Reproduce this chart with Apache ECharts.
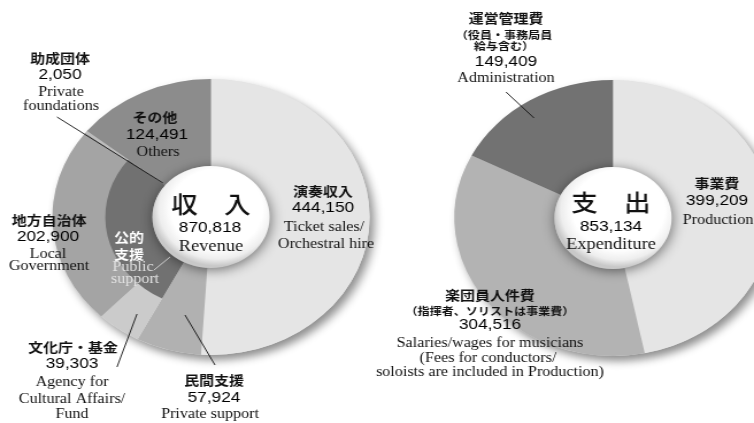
<!DOCTYPE html>
<html>
<head>
<meta charset="utf-8">
<script src="https://cdn.jsdelivr.net/npm/echarts@6/dist/echarts.min.js"></script>
<style>
  html, body { margin: 0; padding: 0; background: #fff; overflow: hidden; }
  /* the original artwork is stretched sideways, so the whole canvas is too */
  #chart { width: 656px; height: 423px; transform-origin: 0 0; transform: scaleX(1.14939); }
</style>
</head>
<body>
<div id="chart"></div>
<script>
// 収入 (revenue), clockwise from 12 o'clock
const revNames = ['演奏収入', '民間支援', '文化庁・基金', '地方自治体', '助成団体', 'その他'];
const revValues = [444150, 57924, 39303, 202900, 2050, 124491];
const revPublic = [false, false, true, true, true, false]; // 公的支援 inner ring

// 支出 (expenditure), clockwise from 12 o'clock
const expNames = ['事業費', '楽団員人件費', '運営管理費'];
const expValues = [399209, 304516, 149409];

const revColors = ['#e5e5e5', '#b1b1b1', '#cbcbcb', '#a4a4a4', '#bcbcbc', '#8c8c8c'];
const expColors = ['#e5e5e5', '#b3b3b3', '#727272'];
const publicColor = '#717171';

const S = 754 / 656;
const fmt = v => v.toLocaleString('en-US');
const sum = a => a.reduce((s, v) => s + v, 0);

const L = [211 / S, 217];
const R = [613 / S, 218];
const R_OUT = 138, R_MID = 92, R_IN = 51;

// inner ring: merge neighbouring slices of the same group
const innerData = [];
revValues.forEach((v, i) => {
  const last = innerData[innerData.length - 1];
  if (last && last.pub === revPublic[i]) last.value += v;
  else innerData.push({ value: v, pub: revPublic[i] });
});

const chart = echarts.init(document.getElementById('chart'));

const base = (center) => ({
  type: 'pie', center, radius: [0, R_OUT], silent: true, z: 1,
  label: { show: false }, labelLine: { show: false },
  itemStyle: { color: '#e5e5e5', shadowBlur: 9, shadowOffsetX: 4, shadowOffsetY: 5, shadowColor: 'rgba(0,0,0,0.45)' },
  data: [{ value: 1 }]
});
const ball = (center) => ({
  type: 'pie', center, radius: [0, R_IN], silent: true, z: 5,
  label: { show: false }, labelLine: { show: false },
  itemStyle: {
    color: { type: 'radial', x: 0.55, y: 0.42, r: 0.56, colorStops: [
      { offset: 0, color: '#ffffff' }, { offset: 0.7, color: '#ffffff' },
      { offset: 0.88, color: '#eeeeee' }, { offset: 1, color: '#c8c8c8' }] },
    shadowBlur: 12, shadowOffsetX: 1, shadowOffsetY: 2, shadowColor: 'rgba(0,0,0,0.5)'
  },
  data: [{ value: 1 }]
});

const T = (text, ix, y, font, fill) => ({
  type: 'text', x: ix / S, y, z: 100, silent: true,
  style: { text, font, fill: fill || '#111', textAlign: 'center', textVerticalAlign: 'middle' }
});
const Ln = (x1, y1, x2, y2, stroke) => ({
  type: 'line', z: 100, silent: true,
  shape: { x1: x1 / S, y1, x2: x2 / S, y2 },
  style: { stroke: stroke || '#111', lineWidth: 0.9 }
});

const JP = 'bold 13px "Noto Sans CJK JP"';
const JPs = 'bold 10.5px "Noto Sans CJK JP"';
const NUM = '15px "Liberation Sans", Arial, sans-serif';
const SER = '14px "Liberation Serif", serif';
const SERb = '16px "Liberation Serif", serif';
const BIG = '500 23px "Noto Sans CJK JP"';

chart.setOption({
  animation: false,
  series: [
    base(L),
    {
      type: 'pie', center: L, radius: [R_IN, R_OUT], startAngle: 90, silent: true, z: 2,
      label: { show: false }, labelLine: { show: false },
      data: revNames.map((n, i) => ({ name: n, value: revValues[i], itemStyle: { color: revColors[i] } }))
    },
    {
      type: 'pie', center: L, radius: [R_IN, R_MID], startAngle: 90, silent: true, z: 3,
      label: { show: false }, labelLine: { show: false },
      data: innerData.map(d => ({ value: d.value, itemStyle: { color: d.pub ? publicColor : 'rgba(0,0,0,0)' } }))
    },
    ball(L),
    base(R),
    {
      type: 'pie', center: R, radius: [R_IN, R_OUT], startAngle: 90, silent: true, z: 2,
      label: { show: false }, labelLine: { show: false },
      data: expNames.map((n, i) => ({ name: n, value: expValues[i], itemStyle: { color: expColors[i] } }))
    },
    ball(R)
  ],
  graphic: { elements: [
    // revenue
    T(revNames[4], 60, 58, JP), T(fmt(revValues[4]), 60, 75, NUM, '#000'),
    T('Private', 61, 92, SER), T('foundations', 61, 106, SER),
    Ln(57, 117, 163, 183),
    T(revNames[5], 155, 117, JP), T(fmt(revValues[5]), 157, 135, NUM, '#000'), T('Others', 158, 152, SER),
    T(revNames[0], 323, 191, JP), T(fmt(revValues[0]), 323, 208, NUM, '#000'),
    T('Ticket sales/', 324, 227, SER), T('Orchestral hire', 326, 244, SER),
    T('収　入', 211, 204, BIG), T(fmt(sum(revValues)), 210, 228, NUM, '#000'), T('Revenue', 211, 247, SERb),
    T(revNames[3], 49, 220, JP), T(fmt(revValues[3]), 48, 237, NUM, '#000'),
    T('Local', 48, 254, SER), T('Government', 49, 266, SER),
    T('公的', 129, 237, JP, '#ffffff'), T('支援', 129, 254, JP, '#ffffff'),
    T('Public', 133, 267, SER, '#e2e2e2'), T('support', 135, 279, SER, '#e2e2e2'),
    Ln(170, 257, 154, 270, '#d8d8d8'),
    T(revNames[2], 73, 347, JP), T(fmt(revValues[2]), 72, 364, NUM, '#000'),
    T('Agency for', 72, 382, SER), T('Cultural Affairs/', 72, 399, SER), T('Fund', 72, 414, SER),
    Ln(117, 367, 137, 314),
    T(revNames[1], 214, 380, JP), T(fmt(revValues[1]), 214, 398, NUM, '#000'), T('Private support', 210, 414, SER),
    Ln(185, 315, 215, 365),
    // expenditure
    T(expNames[2], 506, 18, JP), T('（役員・事務局員', 504, 35, JPs), T('給与含む）', 504, 46, JPs),
    T(fmt(expValues[2]), 506, 62, NUM, '#000'), T('Administration', 506, 78, SER),
    Ln(506, 92, 534, 118),
    T(expNames[0], 717, 183, JP), T(fmt(expValues[0]), 717, 201, NUM, '#000'), T('Production', 718, 220, SER),
    T('支　出', 611, 202, BIG), T(fmt(sum(expValues)), 611, 227, NUM, '#000'), T('Expenditure', 611, 245, SERb),
    T(expNames[1], 490, 295, JP), T('（指揮者、ソリストは事業費）', 490, 311, JPs),
    T(fmt(expValues[1]), 490, 325, NUM, '#000'),
    T('Salaries/wages for musicians', 490, 343, SER),
    T('(Fees for conductors/', 488, 358, SER),
    T('soloists are included in Production)', 490, 372, SER)
  ] }
});
</script>
</body>
</html>
